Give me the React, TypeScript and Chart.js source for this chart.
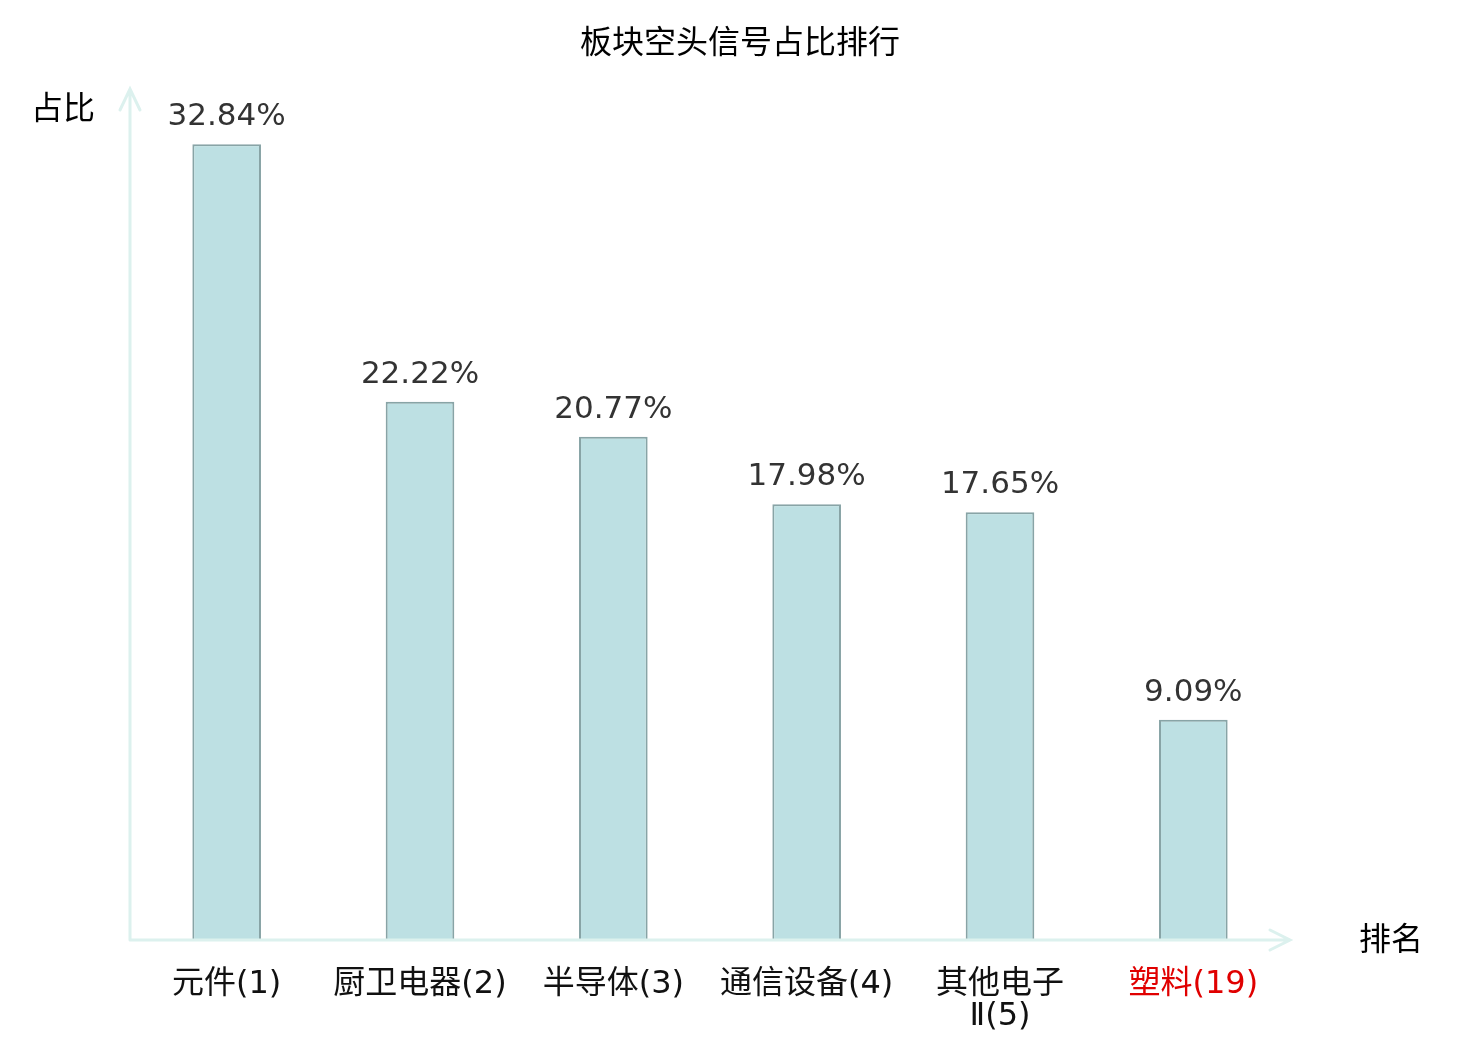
import { useEffect, useRef } from "react"
import { Chart, registerables } from "chart.js"

Chart.register(...registerables)

const categories = [
  "元件(1)",
  "厨卫电器(2)",
  "半导体(3)",
  "通信设备(4)",
  ["其他电子", "Ⅱ(5)"],
  "塑料(19)",
]
const shares = [32.84, 22.22, 20.77, 17.98, 17.65, 9.09]
const labelColors = ["#111", "#111", "#111", "#111", "#111", "#e00000"]

const FONT = "'DejaVu Sans', 'Noto Sans CJK SC', sans-serif"
const AXIS_COLOR = "#dcf1ee"

// title, axis names, arrows and value labels
const decorations = {
  id: "decorations",
  afterDatasetsDraw(chart: any) {
    const { ctx, chartArea } = chart
    const { left, right, bottom } = chartArea
    ctx.save()

    // axes with arrow heads
    ctx.strokeStyle = AXIS_COLOR
    ctx.lineWidth = 3
    ctx.lineCap = "round"
    ctx.beginPath()
    ctx.moveTo(left, bottom)
    ctx.lineTo(left, 89)
    ctx.moveTo(left - 10, 110)
    ctx.lineTo(left, 89)
    ctx.lineTo(left + 10, 110)
    ctx.moveTo(left, bottom)
    ctx.lineTo(right, bottom)
    ctx.moveTo(right - 20, bottom - 10)
    ctx.lineTo(right, bottom)
    ctx.lineTo(right - 20, bottom + 10)
    ctx.stroke()

    // value labels
    const meta = chart.getDatasetMeta(0)
    ctx.fillStyle = "#333"
    ctx.font = `31px ${FONT}`
    ctx.textAlign = "center"
    ctx.textBaseline = "alphabetic"
    meta.data.forEach((bar: any, i: number) => {
      ctx.fillText(shares[i].toFixed(2) + "%", bar.x, bar.y - 19)
    })

    // title and axis names
    ctx.fillStyle = "#000"
    ctx.textBaseline = "middle"
    ctx.font = `32px ${FONT}`
    ctx.fillText("板块空头信号占比排行", 740, 45)
    ctx.fillText("占比", 63, 111)
    ctx.fillText("排名", 1391, 942)
    ctx.restore()
  },
}

export default function App() {
  const canvasRef = useRef<HTMLCanvasElement>(null)

  useEffect(() => {
    document.body.style.margin = "0"
    if (!canvasRef.current) return
    const chart = new Chart(canvasRef.current, {
      type: "bar",
      data: {
        labels: categories,
        datasets: [
          {
            data: shares,
            backgroundColor: "#bde0e3",
            borderColor: "#88a4a6",
            borderWidth: 2,
            categoryPercentage: 1,
            barPercentage: 0.355,
          },
        ],
      },
      options: {
        responsive: false,
        animation: false,
        layout: { padding: { left: 130, right: 190, top: 92, bottom: 0 } },
        plugins: {
          legend: { display: false },
          title: { display: false },
          tooltip: { enabled: false },
        },
        scales: {
          x: {
            grid: { display: false, drawTicks: false },
            border: { display: false },
            afterFit: (scale: any) => {
              scale.height = 100
            },
            ticks: {
              padding: 29,
              color: labelColors,
              font: { family: FONT, size: 32, lineHeight: 1.0 },
              maxRotation: 0,
              autoSkip: false,
            },
          },
          y: {
            display: false,
            min: 0,
            max: 35,
          },
        },
      },
      plugins: [decorations],
    })
    return () => chart.destroy()
  }, [])

  return (
    <div style={{ width: 1480, height: 1040, background: "#fff" }}>
      <canvas ref={canvasRef} width={1480} height={1040}></canvas>
    </div>
  )
}
